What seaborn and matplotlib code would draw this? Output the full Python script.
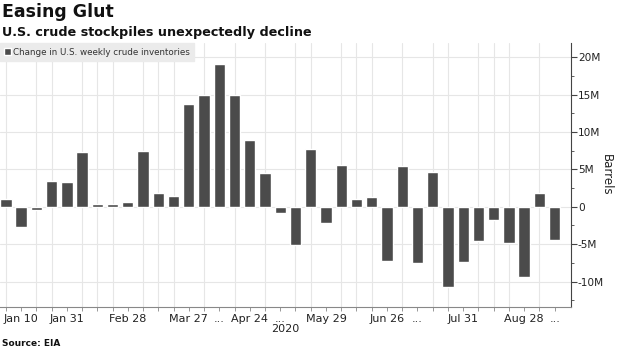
import matplotlib
matplotlib.use("Agg")
import matplotlib.pyplot as plt
import seaborn as sns
import pandas as pd
import numpy as np

# ---- data ----
weeks = pd.date_range("2020-01-03", periods=37, freq="7D")
change_mbbl = [1.0, -2.7, -0.45, 3.4, 3.3, 7.3, 0.36, 0.36, 0.7, 7.5,
               1.9, 1.5, 13.75, 15.0, 19.1, 14.9, 8.9, 4.5, -0.8, -5.1,
               7.8, -2.2, 5.6, 1.07, 1.34, -7.3, 5.5, -7.5, 4.7, -10.7,
               -7.4, -4.6, -1.7, -4.8, -9.4, 1.9, -4.5]
tick_dates = ["2020-01-10", "2020-01-31", "2020-02-28", "2020-03-27", "2020-04-10",
              "2020-04-24", "2020-05-08", "2020-05-29", "2020-06-26", "2020-07-10",
              "2020-07-31", "2020-08-28", "2020-09-11"]
tick_labels = ["Jan 10", "Jan 31", "Feb 28", "Mar 27", "...", "Apr 24", "...",
               "May 29", "Jun 26", "...", "Jul 31", "Aug 28", "..."]
y_ticks = [-10, -5, 0, 5, 10, 15, 20]
y_tick_labels = ["-10M", "-5M", "0", "5M", "10M", "15M", "20M"]
series_name = "Change in U.S. weekly crude inventories"

df = pd.DataFrame({"week": weeks.strftime("%Y-%m-%d"), "change": change_mbbl})

sns.set_theme(style="white")
plt.rcParams["font.family"] = ["DejaVu Sans"]

fig = plt.figure(figsize=(6.2, 3.48), dpi=100)
ax = fig.add_axes([0.0, 0.118, 0.921, 0.758])

bar_color = "#4b4b4b"
sns.barplot(data=df, x="week", y="change", color=bar_color, saturation=1,
            width=0.75, ax=ax, label=series_name, zorder=2)

n = len(df)
ax.set_xlim(-0.38, n - 1 + 1.07)
ax.set_ylim(-13.4, 21.9)

# grid
grid_c = "#e6e6e6"
ax.set_xticks(range(n), minor=True)
pos = [list(df["week"]).index(d) for d in tick_dates]
ax.set_xticks(pos)
ax.set_xticklabels(tick_labels)
ax.grid(False)
ax.grid(which="minor", axis="x", color=grid_c, linewidth=0.8, zorder=0)
ax.set_yticks(y_ticks)
ax.set_yticklabels(y_tick_labels)
ax.set_yticks(np.arange(-12.5, 21, 2.5), minor=True)
ax.grid(which="major", axis="y", color=grid_c, linewidth=0.8, zorder=0)
ax.set_axisbelow(True)

ax.yaxis.tick_right()
ax.yaxis.set_label_position("right")
for s in ["left", "top"]:
    ax.spines[s].set_visible(False)
ax.spines["right"].set_color("#444444")
ax.spines["right"].set_linewidth(0.8)
ax.spines["bottom"].set_color("#888888")
ax.spines["bottom"].set_linewidth(0.8)

ax.tick_params(axis="y", which="major", direction="out", length=4, width=0.8,
               color="#444444", labelsize=7.6, labelcolor="#222222", pad=1, right=True, left=False)
ax.tick_params(axis="y", which="minor", direction="out", length=2, width=0.6,
               color="#444444", right=True, left=False)
ax.tick_params(axis="x", which="major", direction="out", length=3, width=0.6,
               color="#888888", labelsize=8, labelcolor="#222222", pad=2, bottom=True)
ax.tick_params(axis="x", which="minor", direction="out", length=3, width=0.6,
               color="#888888", bottom=True)

ax.set_xlabel("2020", fontsize=8, color="#222222", labelpad=0)
ax.set_ylabel("Barrels", fontsize=8.5, color="#222222", rotation=270, labelpad=6)

leg = ax.legend(loc="upper left", bbox_to_anchor=(0.0, 1.0), borderaxespad=0,
                frameon=True, fancybox=False, fontsize=6.3, handlelength=0.7,
                handleheight=0.7, handletextpad=0.3, borderpad=0.5)
leg.get_frame().set_facecolor("#ebebeb")
leg.get_frame().set_edgecolor("#ebebeb")
leg.get_frame().set_alpha(1)
for t in leg.get_texts():
    t.set_color("#333333")

fig.text(0.003, 0.965, "Easing Glut", fontsize=12.5, fontweight="bold",
         color="#111111", va="center", ha="left")
fig.text(0.003, 0.908, "U.S. crude stockpiles unexpectedly decline", fontsize=9.2,
         fontweight="bold", color="#111111", va="center", ha="left")
fig.text(0.003, 0.014, "Source: EIA", fontsize=6.5, fontweight="bold",
         color="#111111", va="center", ha="left")

fig.savefig("out.png", dpi=100, facecolor="white")
